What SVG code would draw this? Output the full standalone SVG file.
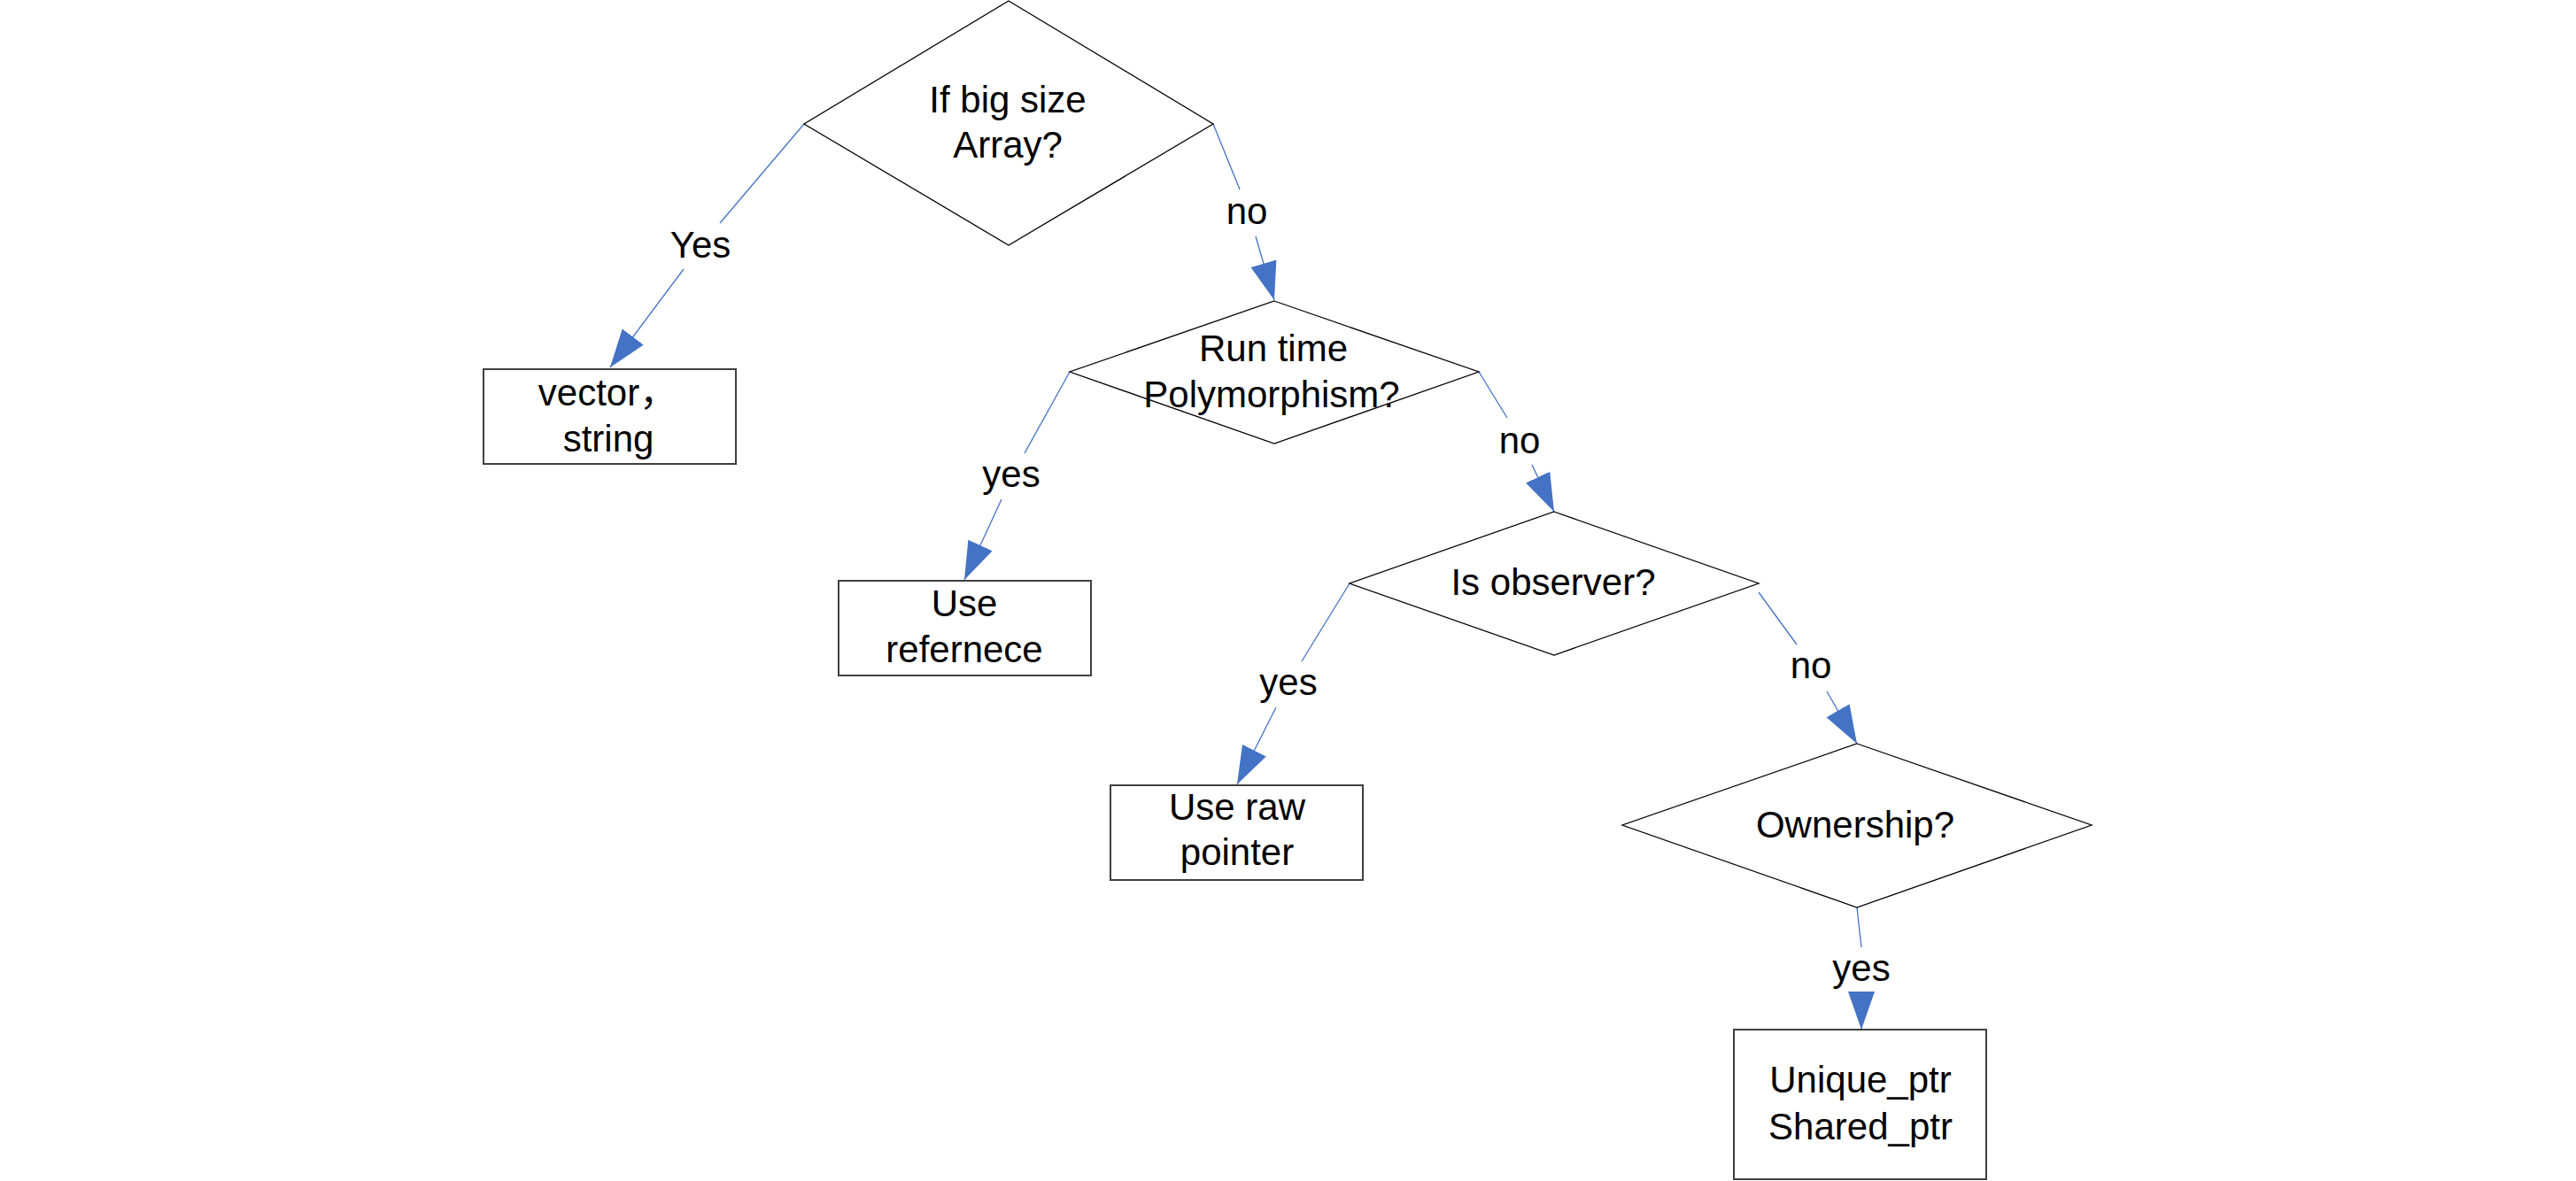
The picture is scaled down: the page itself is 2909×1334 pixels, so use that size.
<svg xmlns="http://www.w3.org/2000/svg" width="2909" height="1334" viewBox="0 0 2909 1334">
<defs>
<style>
.dia{fill:#fff;stroke:#000;stroke-width:1.3}
.box{fill:#fff;stroke:#404040;stroke-width:2}
.t{font-family:"Liberation Sans","Noto Sans CJK SC",Arial,sans-serif;font-size:42px;fill:#000;text-anchor:middle}
.c{stroke:#4472C4;stroke-width:1.3;fill:none}
</style>
<marker id="ah" markerUnits="userSpaceOnUse" markerWidth="44" markerHeight="31" refX="43" refY="15" orient="auto">
<path d="M0,0 L43,15 L0,30 z" fill="#4472C4"/>
</marker>
</defs>
<rect width="2909" height="1334" fill="#fff"/>
<g id="connectors">
<line class="c" x1="908" y1="140" x2="813" y2="252"/>
<line class="c" x1="772" y1="304" x2="689" y2="415" marker-end="url(#ah)"/>
<text class="t" x="791" y="291">Yes</text>
<line class="c" x1="1370" y1="140" x2="1400" y2="214"/>
<line class="c" x1="1418" y1="267" x2="1439" y2="339" marker-end="url(#ah)"/>
<text class="t" x="1408" y="253">no</text>
<line class="c" x1="1208" y1="420" x2="1157" y2="512"/>
<line class="c" x1="1131" y1="564" x2="1089" y2="655" marker-end="url(#ah)"/>
<text class="t" x="1142" y="550">yes</text>
<line class="c" x1="1670" y1="420" x2="1702" y2="472"/>
<line class="c" x1="1730" y1="525" x2="1755" y2="578" marker-end="url(#ah)"/>
<text class="t" x="1716" y="512">no</text>
<line class="c" x1="1524" y1="659" x2="1470" y2="747"/>
<line class="c" x1="1441" y1="799" x2="1397" y2="886" marker-end="url(#ah)"/>
<text class="t" x="1455" y="785">yes</text>
<line class="c" x1="1986" y1="669" x2="2029" y2="728"/>
<line class="c" x1="2063" y1="781" x2="2097" y2="840" marker-end="url(#ah)"/>
<text class="t" x="2045" y="766">no</text>
<line class="c" x1="2097" y1="1025" x2="2102" y2="1070"/>
<line class="c" x1="2102" y1="1121" x2="2102" y2="1163" marker-end="url(#ah)"/>
<text class="t" x="2102" y="1108">yes</text>
</g>
<g id="d1">
<polygon class="dia" points="1139,1 1370,140 1139,277 908,140"/>
<text class="t" x="1138" y="127">If big size</text>
<text class="t" x="1138" y="178">Array?</text>
</g>
<g id="b1">
<rect class="box" x="546" y="417" width="285" height="107"/>
<text class="t" x="686" y="458">vector，</text>
<text class="t" x="687" y="510">string</text>
</g>
<g id="d2">
<polygon class="dia" points="1439,340 1670,420 1439,501 1208,420"/>
<text class="t" x="1438" y="408">Run time</text>
<text class="t" x="1436" y="460">Polymorphism?</text>
</g>
<g id="b2">
<rect class="box" x="947" y="656" width="285" height="107"/>
<text class="t" x="1089" y="696">Use</text>
<text class="t" x="1089" y="748">refernece</text>
</g>
<g id="d3">
<polygon class="dia" points="1755,578 1986,659 1755,740 1524,659"/>
<text class="t" x="1754" y="672">Is observer?</text>
</g>
<g id="b3">
<rect class="box" x="1254" y="887" width="285" height="107"/>
<text class="t" x="1397" y="926">Use raw</text>
<text class="t" x="1397" y="977">pointer</text>
</g>
<g id="d4">
<polygon class="dia" points="2097,840 2362,932 2097,1025 1832,932"/>
<text class="t" x="2095" y="946">Ownership?</text>
</g>
<g id="b4">
<rect class="box" x="1958" y="1163" width="285" height="169"/>
<text class="t" x="2101" y="1234">Unique_ptr</text>
<text class="t" x="2101" y="1287">Shared_ptr</text>
</g>
</svg>
